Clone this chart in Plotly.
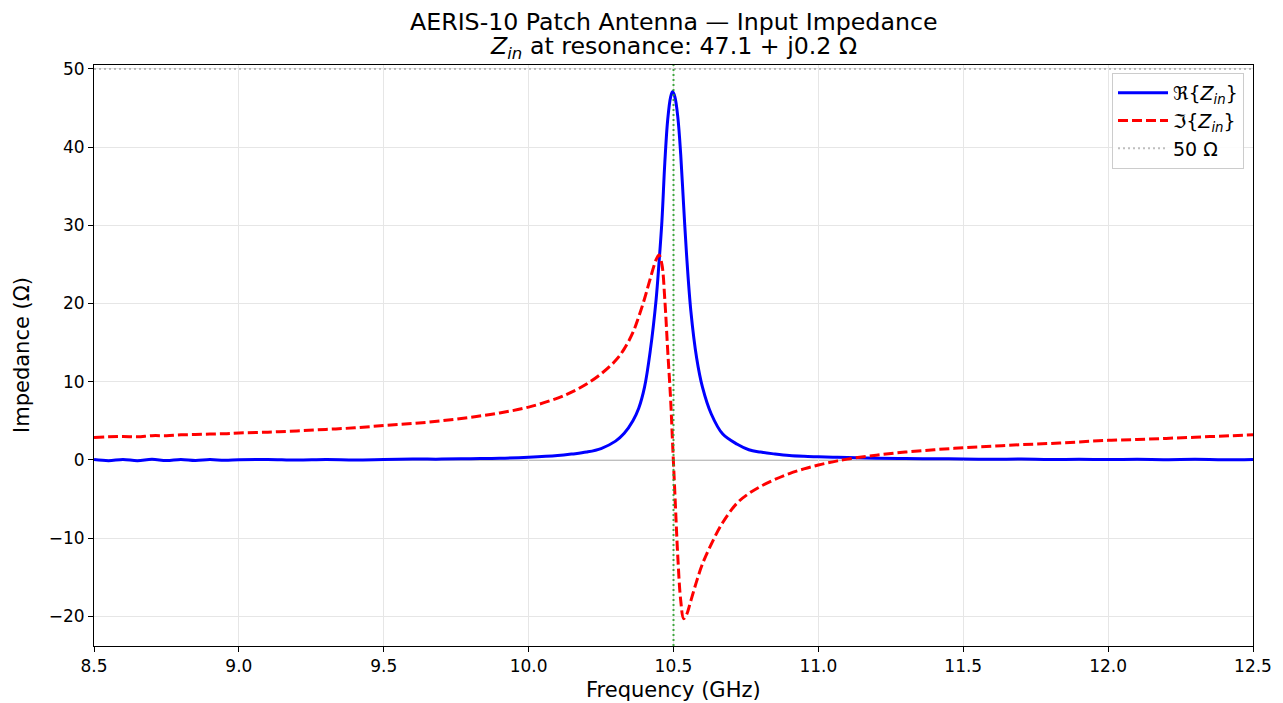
import plotly.graph_objects as go

# ---- data ----
freq_ghz = [8.5, 8.55, 8.6, 8.65, 8.7, 8.75, 8.8, 8.85, 8.9, 8.95, 9.0, 9.1, 9.2, 9.3, 9.4,
            9.5, 9.6, 9.7, 9.8, 9.9, 10.0, 10.1, 10.15, 10.2, 10.25, 10.3, 10.33, 10.36,
            10.38, 10.4, 10.42, 10.44, 10.45, 10.46, 10.47, 10.48, 10.49, 10.497, 10.505,
            10.515, 10.525, 10.535, 10.545, 10.56, 10.58, 10.6, 10.63, 10.67, 10.72, 10.76,
            10.8, 10.85, 10.9, 10.95, 11.0, 11.05, 11.1, 11.2, 11.3, 11.4, 11.5, 11.6, 11.7,
            11.8, 11.9, 12.0, 12.1, 12.2, 12.3, 12.4, 12.5]

re_zin = [0.05, -0.1, 0.05, -0.1, 0.08, -0.08, 0.06, -0.07, 0.05, -0.05, 0.02, 0.06, -0.02,
          0.05, 0.0, 0.05, 0.1, 0.1, 0.15, 0.2, 0.33, 0.55, 0.75, 1.0, 1.45, 2.4, 3.4, 5.0,
          6.6, 9.3, 14.0, 20.5, 25.2, 30.5, 38.0, 43.5, 46.4, 47.1, 46.4, 43.8, 39.0, 32.5,
          26.3, 19.0, 13.0, 9.3, 5.9, 3.3, 2.0, 1.3, 1.0, 0.75, 0.55, 0.45, 0.4, 0.35, 0.3,
          0.22, 0.18, 0.15, 0.12, 0.08, 0.1, 0.05, 0.08, 0.04, 0.07, 0.03, 0.07, 0.02, 0.06]

im_zin = [2.85, 2.95, 3.0, 2.95, 3.1, 3.1, 3.2, 3.25, 3.3, 3.35, 3.45, 3.55, 3.7, 3.9, 4.1,
          4.4, 4.65, 5.0, 5.45, 6.0, 6.75, 7.9, 8.7, 9.7, 11.0, 12.7, 14.2, 16.3, 18.3, 20.6,
          23.2, 25.6, 26.2, 25.0, 20.5, 14.0, 7.8, 2.0, -4.5, -12.5, -18.0, -20.3, -19.8,
          -18.0, -15.5, -13.3, -10.8, -8.0, -5.5, -4.3, -3.4, -2.5, -1.75, -1.15, -0.65,
          -0.25, 0.1, 0.6, 1.0, 1.3, 1.55, 1.75, 1.95, 2.1, 2.3, 2.5, 2.6, 2.75, 2.9, 3.05, 3.2]

ref_impedance = 50.0
resonance_ghz = 10.5
x_range = [8.5, 12.5]
y_range = [-23.8, 50.5]
x_ticks = [8.5, 9.0, 9.5, 10.0, 10.5, 11.0, 11.5, 12.0, 12.5]
y_ticks = [-20, -10, 0, 10, 20, 30, 40, 50]
title_line1 = "AERIS-10 Patch Antenna — Input Impedance"
title_line2 = "<i>Z</i><sub><i>in</i></sub> at resonance: 47.1 + j0.2 Ω"

FONT = "DejaVu Sans"
OFF = 8  # default page body margin
W, H = 1283 - OFF, 703 - OFF
L, R, T, B = 94 - OFF, 30, 65 - OFF, 57
PH = H - T - B
PW = W - L - R

fig = go.Figure()

fig.add_trace(go.Scatter(
    x=freq_ghz, y=re_zin, mode="lines", line=dict(color="#0000ff", width=3, shape="spline"),
    name="ℜ{<i>Z</i><sub><i>in</i></sub>}"))
fig.add_trace(go.Scatter(
    x=freq_ghz, y=im_zin, mode="lines",
    line=dict(color="#ff0000", width=3, dash="10px,4px", shape="spline"),
    name="ℑ{<i>Z</i><sub><i>in</i></sub>}"))
fig.add_trace(go.Scatter(
    x=x_range, y=[ref_impedance, ref_impedance], mode="lines",
    line=dict(color="rgba(128,128,128,0.5)", width=2, dash="2px,3px"),
    name="50 Ω"))

# zero line and resonance marker
fig.add_shape(type="line", xref="paper", x0=0, x1=1, yref="y", y0=0, y1=0,
              line=dict(color="rgba(128,128,128,0.5)", width=2), layer="below")
fig.add_shape(type="line", xref="x", x0=resonance_ghz, x1=resonance_ghz, yref="paper", y0=0, y1=1,
              line=dict(color="rgba(44,160,44,0.9)", width=2, dash="2px,3px"))


def py(page_y):
    """page pixel y -> paper coordinate"""
    return 1 - (page_y - OFF - T) / PH


def px(page_x):
    return (page_x - OFF - L) / PW


# two-line title as annotations for precise placement
fig.add_annotation(text=title_line1, xref="paper", yref="paper", x=0.5, y=py(21.5),
                   xanchor="center", yanchor="middle", showarrow=False,
                   font=dict(family=FONT, size=23.7, color="black"))
fig.add_annotation(text=title_line2, xref="paper", yref="paper", x=0.5, y=py(47.5),
                   xanchor="center", yanchor="middle", showarrow=False,
                   font=dict(family=FONT, size=23.7, color="black"))
# axis titles
fig.add_annotation(text="Frequency (GHz)", xref="paper", yref="paper", x=0.5, y=py(690),
                   xanchor="center", yanchor="middle", showarrow=False,
                   font=dict(family=FONT, size=21, color="black"))
fig.add_annotation(text="Impedance (Ω)", xref="paper", yref="paper", x=px(22), y=py(355),
                   xanchor="center", yanchor="middle", showarrow=False, textangle=-90,
                   font=dict(family=FONT, size=21, color="black"))

fig.update_layout(
    width=W, height=H,
    margin=dict(l=L, r=R, t=T, b=B, autoexpand=False),
    paper_bgcolor="white", plot_bgcolor="white",
    font=dict(family=FONT, color="black", size=17),
    legend=dict(
        x=px(1244), y=py(73), xanchor="right", yanchor="top",
        bgcolor="rgba(255,255,255,0.85)", bordercolor="#cccccc", borderwidth=1,
        font=dict(family=FONT, size=19), tracegroupgap=2, itemwidth=50),
    showlegend=True,
)

fig.update_xaxes(
    range=x_range, tickvals=x_ticks, ticktext=[f"{v:.1f}" for v in x_ticks],
    showline=True, linecolor="black", linewidth=1, mirror=True,
    ticks="outside", ticklen=5, tickcolor="black", automargin=False,
    showgrid=True, gridcolor="#e6e6e6", gridwidth=1, zeroline=False,
    tickfont=dict(family=FONT, size=17))
fig.update_yaxes(
    range=y_range, tickvals=y_ticks,
    showline=True, linecolor="black", linewidth=1, mirror=True,
    ticks="outside", ticklen=5, tickcolor="black", automargin=False,
    showgrid=True, gridcolor="#e6e6e6", gridwidth=1, zeroline=False,
    tickfont=dict(family=FONT, size=17))

fig.write_html("out.html")
